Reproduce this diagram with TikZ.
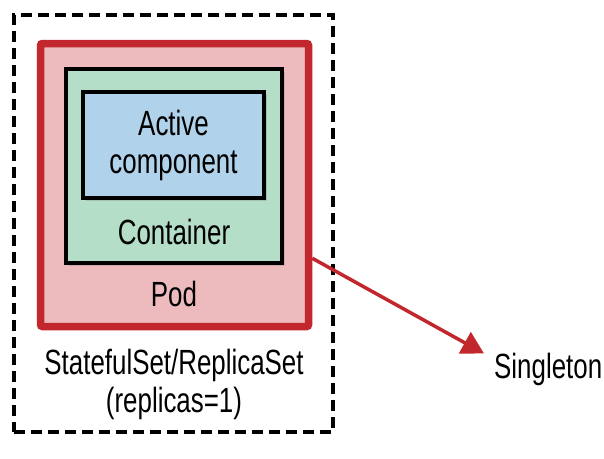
\documentclass[tikz,border=0pt]{standalone}
\usepackage{fontspec}
\setmainfont{Liberation Sans}[FakeStretch=0.74]
\usetikzlibrary{arrows.meta,shadows}

\definecolor{podred}{RGB}{193,39,45}
\definecolor{podfill}{RGB}{237,187,190}
\definecolor{ctrfill}{RGB}{180,222,200}
\definecolor{actfill}{RGB}{176,210,234}

\tikzset{
  shade/.style={drop shadow={opacity=0.3, shadow xshift=3pt, shadow yshift=-3pt}},
  setbox/.style={draw, line width=3.5pt, dash pattern=on 11pt off 6pt},
  podbox/.style={draw=podred, fill=podfill, line width=7.5pt, rounded corners=2pt, shade},
  ctrbox/.style={draw, fill=ctrfill, line width=4pt, shade},
  actbox/.style={draw, fill=actfill, line width=4pt, shade, align=center},
  lbl/.style={inner sep=0pt, align=center},
  arr/.style={draw=podred, line width=3.5pt, -{Triangle[length=22pt,width=24pt]}}
}

\begin{document}
\begin{tikzpicture}[x=1pt, y=-1pt, font=\fontsize{35}{38}\selectfont]
  \useasboundingbox (0,0) rectangle (604,458);

  % outer set, pod, container, component
  \node[setbox, minimum width=319pt, minimum height=417pt] (set) at (173.5,223.5) {};
  \node[podbox, minimum width=268pt, minimum height=283pt] (pod) at (174.5,185) {};
  \node[ctrbox, minimum width=216pt, minimum height=194pt] (ctr) at (174,166) {};
  \node[actbox, minimum width=181pt, minimum height=106pt] (act) at (173.5,145) {Active\\component};

  % labels
  \node[lbl, anchor=base] (ctrlbl) at (174,244) {Container};
  \node[lbl, anchor=base] (podlbl) at (174,306) {Pod};
  \node[lbl] (setlbl) at (174,384) {StatefulSet/ReplicaSet\\(replicas=1)};
  \node[lbl, anchor=base west] (single) at (494,378) {Singleton};

  % connector
  \coordinate (tip) at ([xshift=-10pt,yshift=-1pt]single.north west);
  \draw[arr] (pod.-28) -- (tip);
\end{tikzpicture}
\end{document}
